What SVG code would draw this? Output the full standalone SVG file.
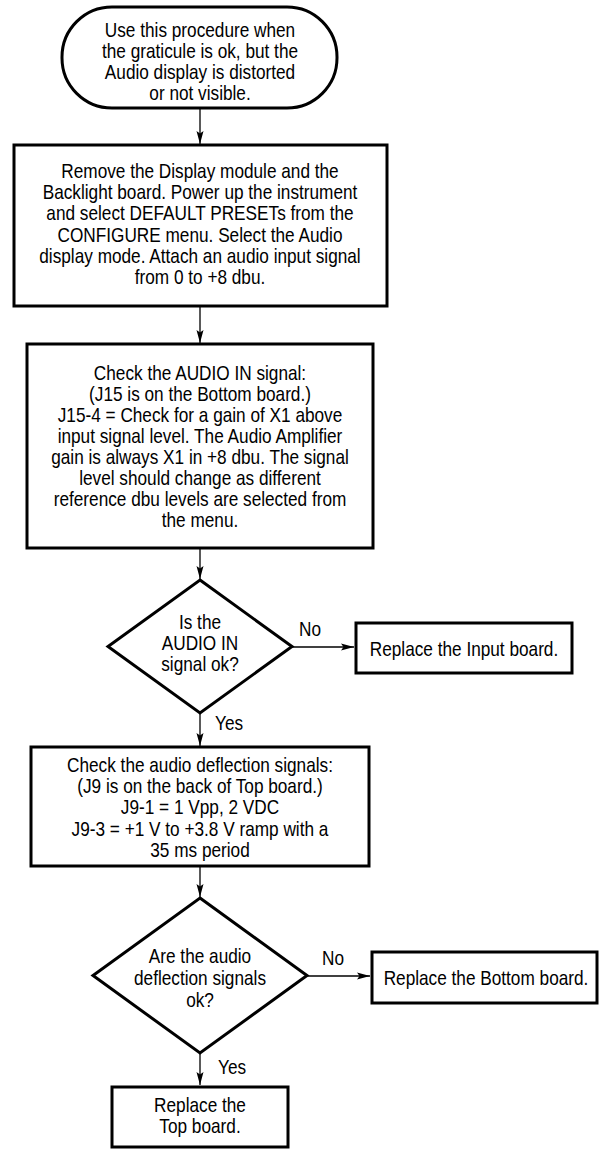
<svg xmlns="http://www.w3.org/2000/svg" width="600" height="1150" viewBox="0 0 600 1150">
<style>
.shape{fill:#fff;stroke:#000;stroke-width:3;stroke-linejoin:miter}
.conn{fill:none;stroke:#000;stroke-width:1.3}
text{font-family:"Liberation Sans",Arial,sans-serif;font-size:21px;fill:#000}
.c{text-anchor:middle}
</style>
<defs>
<marker id="arr" markerUnits="userSpaceOnUse" markerWidth="13" markerHeight="8" viewBox="0 0 13 8" refX="13" refY="4" orient="auto">
<path d="M0,0.5 L13,4 L0,7.5 L2.5,4 Z" fill="#000"/>
</marker>
</defs>
<rect width="600" height="1150" fill="#fff"/>
<g id="connectors">
<line class="conn" x1="200" y1="108" x2="200" y2="144" marker-end="url(#arr)"/>
<line class="conn" x1="200" y1="306" x2="200" y2="343" marker-end="url(#arr)"/>
<line class="conn" x1="200" y1="548" x2="200" y2="579" marker-end="url(#arr)"/>
<line class="conn" x1="292" y1="647" x2="354" y2="647" marker-end="url(#arr)"/>
<line class="conn" x1="200" y1="713" x2="200" y2="746" marker-end="url(#arr)"/>
<line class="conn" x1="200" y1="866" x2="200" y2="897" marker-end="url(#arr)"/>
<line class="conn" x1="307" y1="976" x2="370" y2="976" marker-end="url(#arr)"/>
<line class="conn" x1="200" y1="1053" x2="200" y2="1085" marker-end="url(#arr)"/>
<text transform="translate(299,636) scale(0.82,1)">No</text>
<text transform="translate(215,730) scale(0.82,1)">Yes</text>
<text transform="translate(322,965) scale(0.82,1)">No</text>
<text transform="translate(218,1074) scale(0.82,1)">Yes</text>
</g>
<g id="start">
<rect class="shape" x="62" y="7" width="275" height="101" rx="50" ry="50"/>
<text class="c" transform="translate(200,37) scale(0.82,1)"><tspan x="0" y="0">Use this procedure when</tspan><tspan x="0" dy="21">the graticule is ok, but the</tspan><tspan x="0" dy="21">Audio display is distorted</tspan><tspan x="0" dy="21">or not visible.</tspan></text>
</g>
<g id="remove">
<rect class="shape" x="14" y="145" width="373" height="161"/>
<text class="c" transform="translate(200,178) scale(0.82,1)"><tspan x="0" y="0">Remove the Display module and the</tspan><tspan x="0" dy="21.2">Backlight board. Power up the instrument</tspan><tspan x="0" dy="21.2">and select DEFAULT PRESETs from the</tspan><tspan x="0" dy="21.2">CONFIGURE menu. Select the Audio</tspan><tspan x="0" dy="21.2">display mode. Attach an audio input signal</tspan><tspan x="0" dy="21.2">from 0 to +8 dbu.</tspan></text>
</g>
<g id="check-audio-in">
<rect class="shape" x="27" y="344" width="346" height="204"/>
<text class="c" transform="translate(200,380) scale(0.82,1)"><tspan x="0" y="0">Check the AUDIO IN signal:</tspan><tspan x="0" dy="21">(J15 is on the Bottom board.)</tspan><tspan x="0" dy="21">J15-4 = Check for a gain of X1 above</tspan><tspan x="0" dy="21">input signal level. The Audio Amplifier</tspan><tspan x="0" dy="21">gain is always X1 in +8 dbu. The signal</tspan><tspan x="0" dy="21">level should change as different</tspan><tspan x="0" dy="21">reference dbu levels are selected from</tspan><tspan x="0" dy="21">the menu.</tspan></text>
</g>
<g id="decision-audio-in">
<polygon class="shape" points="200,580 292,646.5 200,713 108,646.5"/>
<text class="c" transform="translate(200,629) scale(0.82,1)"><tspan x="0" y="0">Is the</tspan><tspan x="0" dy="21">AUDIO IN</tspan><tspan x="0" dy="21">signal ok?</tspan></text>
</g>
<g id="replace-input">
<rect class="shape" x="356" y="623" width="216" height="50"/>
<text class="c" transform="translate(464,656) scale(0.82,1)">Replace the Input board.</text>
</g>
<g id="check-deflection">
<rect class="shape" x="31" y="747" width="338" height="119"/>
<text class="c" transform="translate(200,772) scale(0.82,1)"><tspan x="0" y="0">Check the audio deflection signals:</tspan><tspan x="0" dy="21.2">(J9 is on the back of Top board.)</tspan><tspan x="0" dy="21.2">J9-1 = 1 Vpp, 2 VDC</tspan><tspan x="0" dy="21.2">J9-3 = +1 V to +3.8 V ramp with a</tspan><tspan x="0" dy="21.2">35 ms period</tspan></text>
</g>
<g id="decision-deflection">
<polygon class="shape" points="200,898 307,975.5 200,1053 93,975.5"/>
<text class="c" transform="translate(200,963) scale(0.82,1)"><tspan x="0" y="0">Are the audio</tspan><tspan x="0" dy="21.8">deflection signals</tspan><tspan x="0" dy="21.8">ok?</tspan></text>
</g>
<g id="replace-bottom">
<rect class="shape" x="372" y="952" width="225" height="51"/>
<text class="c" transform="translate(486,985) scale(0.82,1)">Replace the Bottom board.</text>
</g>
<g id="replace-top">
<rect class="shape" x="112" y="1087" width="176" height="60"/>
<text class="c" transform="translate(200,1112) scale(0.82,1)"><tspan x="0" y="0">Replace the</tspan><tspan x="0" dy="21.3">Top board.</tspan></text>
</g>
</svg>
